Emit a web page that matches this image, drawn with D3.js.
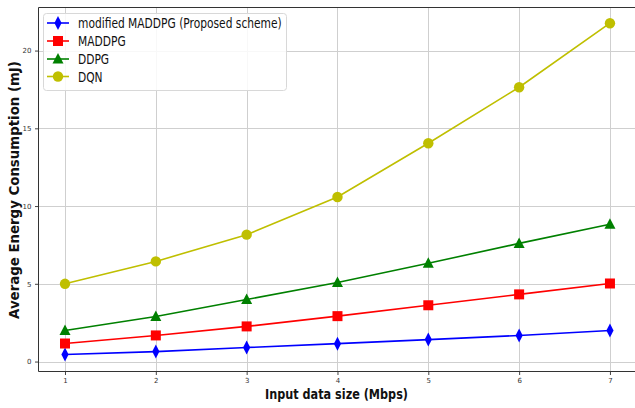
<!DOCTYPE html>
<html><head><meta charset="utf-8">
<script src="https://cdn.jsdelivr.net/npm/d3@7"></script>
<style>body{margin:0;background:#fff}svg{display:block}</style>
</head><body>
<svg id="c" width="635" height="408"></svg>
<script>
const xValues = [1, 2, 3, 4, 5, 6, 7];
const modifiedMADDPG = [0.45, 0.64, 0.9, 1.15, 1.41, 1.68, 2.0];
const MADDPG = [1.16, 1.68, 2.26, 2.92, 3.62, 4.32, 5.02];
const DDPG = [2.0, 2.9, 3.99, 5.08, 6.32, 7.6, 8.83];
const DQN = [5.0, 6.44, 8.16, 10.58, 14.04, 17.64, 21.76];
const seriesNames = ["modified MADDPG (Proposed scheme)", "MADDPG", "DDPG", "DQN"];
const xTicks = [1, 2, 3, 4, 5, 6, 7];
const yTicks = [0, 5, 10, 15, 20];

const series = [
  {name: seriesNames[0], values: modifiedMADDPG, color: "#0000ff", marker: "diamond"},
  {name: seriesNames[1], values: MADDPG, color: "#ff0000", marker: "square"},
  {name: seriesNames[2], values: DDPG, color: "#008000", marker: "triangle"},
  {name: seriesNames[3], values: DQN, color: "#bfbf00", marker: "circle"}
];

const svg = d3.select("#c");
const L = 38.5, R = 640, T = 7.5, B = 371.5;
const x = d3.scaleLinear().domain([0.7, 7.3]).range([37.75, 637.2]);
const y = d3.scaleLinear().domain([-0.64, 22.77]).range([B, T]);

// grid
const g = svg.append("g");
g.selectAll(".gx").data(xTicks).enter().append("line")
  .attr("x1", d => Math.round(x(d)) + 0.5).attr("x2", d => Math.round(x(d)) + 0.5)
  .attr("y1", T).attr("y2", B).attr("stroke", "#cfcfcf").attr("stroke-width", 1);
g.selectAll(".gy").data(yTicks).enter().append("line")
  .attr("y1", d => Math.round(y(d)) + 0.5).attr("y2", d => Math.round(y(d)) + 0.5)
  .attr("x1", L).attr("x2", R).attr("stroke", "#cfcfcf").attr("stroke-width", 1);

// axes
const xAxis = d3.axisBottom(x).tickValues(xTicks).tickSize(3.5).tickPadding(3.5).tickFormat(d3.format("d"));
const yAxis = d3.axisLeft(y).tickValues(yTicks).tickSize(3.5).tickPadding(3.5).tickFormat(d3.format("d"));
const gx = svg.append("g").attr("transform", `translate(0,${B})`).call(xAxis);
const gy = svg.append("g").attr("transform", `translate(${L},0)`).call(yAxis);
[gx, gy].forEach(a => {
  a.select(".domain").remove();
  a.selectAll("line").attr("stroke", "#444");
  a.selectAll("text").attr("font-family", "DejaVu Sans").attr("font-size", 7).attr("fill", "#333");
});

// spines
svg.append("line").attr("x1", L).attr("x2", L).attr("y1", T).attr("y2", B).attr("stroke", "#333").attr("stroke-width", 1);
svg.append("line").attr("x1", L).attr("x2", R).attr("y1", B).attr("y2", B).attr("stroke", "#333").attr("stroke-width", 1);
svg.append("line").attr("x1", L).attr("x2", R).attr("y1", T).attr("y2", T).attr("stroke", "#333").attr("stroke-width", 1);

const line = d3.line().x((d, i) => x(xValues[i])).y(d => y(d));

function drawMarker(sel, type, color) {
  if (type === "diamond") {
    sel.append("path").attr("d", "M0,-7 L3.6,0 L0,7 L-3.6,0 Z").attr("fill", color);
  } else if (type === "square") {
    sel.append("rect").attr("x", -5).attr("y", -5).attr("width", 10).attr("height", 10).attr("fill", color);
  } else if (type === "triangle") {
    sel.append("path").attr("d", "M0,-6 L5.5,4.5 L-5.5,4.5 Z").attr("fill", color);
  } else {
    sel.append("circle").attr("r", 5.2).attr("fill", color);
  }
}

series.forEach(s => {
  svg.append("path").datum(s.values).attr("d", line).attr("fill", "none")
    .attr("stroke", s.color).attr("stroke-width", 1.6);
  s.values.forEach((v, i) => {
    const m = svg.append("g").attr("transform", `translate(${x(xValues[i])},${y(v)})`);
    drawMarker(m, s.marker, s.color);
  });
});

// legend
const lg = svg.append("g");
lg.append("rect").attr("x", 43.5).attr("y", 13.5).attr("width", 243).attr("height", 77)
  .attr("rx", 3).attr("fill", "rgba(255,255,255,0.85)").attr("stroke", "#d8d8d8");
const rowY = [23, 41, 59, 76.5];
let scaleF = 1;
series.forEach((s, i) => {
  const row = lg.append("g").attr("transform", `translate(0,${rowY[i]})`);
  row.append("line").attr("x1", 47).attr("x2", 69).attr("y1", 0).attr("y2", 0)
    .attr("stroke", s.color).attr("stroke-width", 1.6);
  const m = row.append("g").attr("transform", "translate(58,0)");
  drawMarker(m, s.marker, s.color);
  const t = row.append("text").attr("x", 0).attr("y", 0).attr("dy", "0.36em")
    .attr("font-family", "DejaVu Sans").attr("font-size", 14.5).attr("fill", "#111").text(s.name);
  if (i === 0) scaleF = 204 / t.node().getComputedTextLength();
  t.attr("transform", `translate(78,0) scale(${scaleF},1)`);
});

// axis labels
const xl = svg.append("text").attr("font-family", "DejaVu Sans").attr("font-weight", "bold")
  .attr("font-size", 14.5).attr("fill", "#111").attr("text-anchor", "middle").text("Input data size (Mbps)");
const xw = xl.node().getComputedTextLength();
xl.attr("transform", `translate(336.5,399) scale(${143 / xw},1)`);

const yl = svg.append("text").attr("font-family", "DejaVu Sans").attr("font-weight", "bold")
  .attr("font-size", 13.5).attr("fill", "#111").attr("text-anchor", "middle").text("Average Energy Consumption (mJ)");
const yw = yl.node().getComputedTextLength();
yl.attr("transform", `translate(19,190) rotate(-90) scale(${258 / yw},1)`);
</script>
</body></html>
